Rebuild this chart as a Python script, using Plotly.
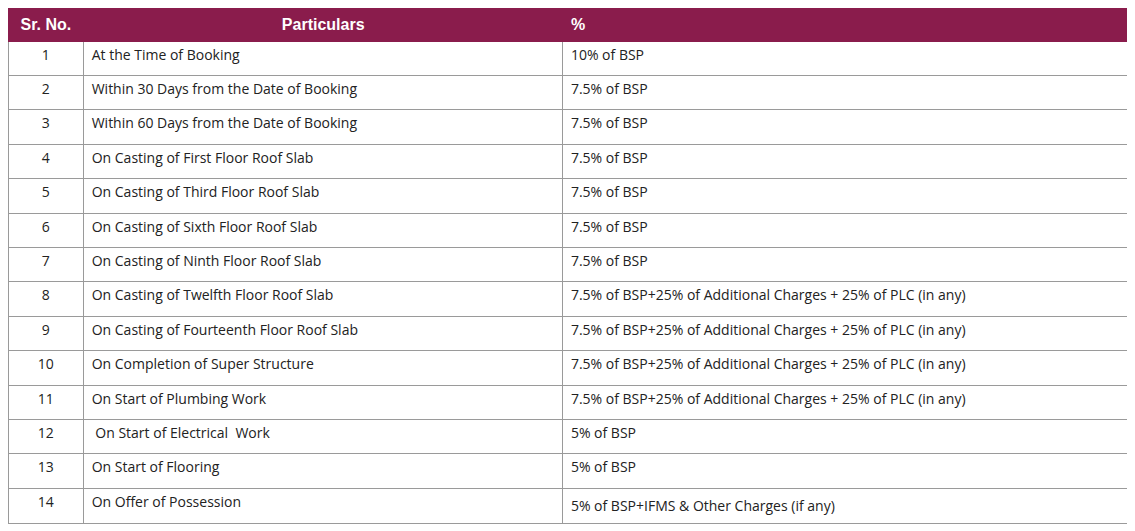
import plotly.graph_objects as go

sr_no = [str(i) for i in range(1, 15)]
particulars = [
    "At the Time of Booking",
    "Within 30 Days from the Date of Booking",
    "Within 60 Days from the Date of Booking",
    "On Casting of First Floor Roof Slab",
    "On Casting of Third Floor Roof Slab",
    "On Casting of Sixth Floor Roof Slab",
    "On Casting of Ninth Floor Roof Slab",
    "On Casting of Twelfth Floor Roof Slab",
    "On Casting of Fourteenth Floor Roof Slab",
    "On Completion of Super Structure",
    "On Start of Plumbing Work",
    " On Start of Electrical  Work",
    "On Start of Flooring",
    "On Offer of Possession",
]
extra = "7.5% of BSP+25% of Additional Charges + 25% of PLC (in any)"
percent = [
    "10% of BSP", "7.5% of BSP", "7.5% of BSP", "7.5% of BSP", "7.5% of BSP",
    "7.5% of BSP", "7.5% of BSP", extra, extra, extra, extra,
    "5% of BSP", "5% of BSP", "5% of BSP+IFMS & Other Charges (if any)",
]

fig = go.Figure(go.Table(
    columnwidth=[75, 475, 575],
    header=dict(
        values=["<b>Sr. No.</b>", "<b>Particulars</b>", "<b>%</b>"],
        fill_color="#8a1c4c",
        line_color="#8a1c4c",
        font=dict(color="white", size=16, family="Liberation Sans"),
        align=["center", "center", "left"],
        height=31,
    ),
    cells=dict(
        values=[sr_no, particulars, percent],
        fill_color="white",
        line_color="#9a9a9a",
        font=dict(color="#222222", size=14, family="Open Sans"),
        align=["center", "left", "left"],
        height=34.4,
    ),
))
fig.update_layout(
    width=1135, height=531,
    margin=dict(l=0, r=0, t=0, b=0),
    paper_bgcolor="white",
)
fig.write_html("out.html")
